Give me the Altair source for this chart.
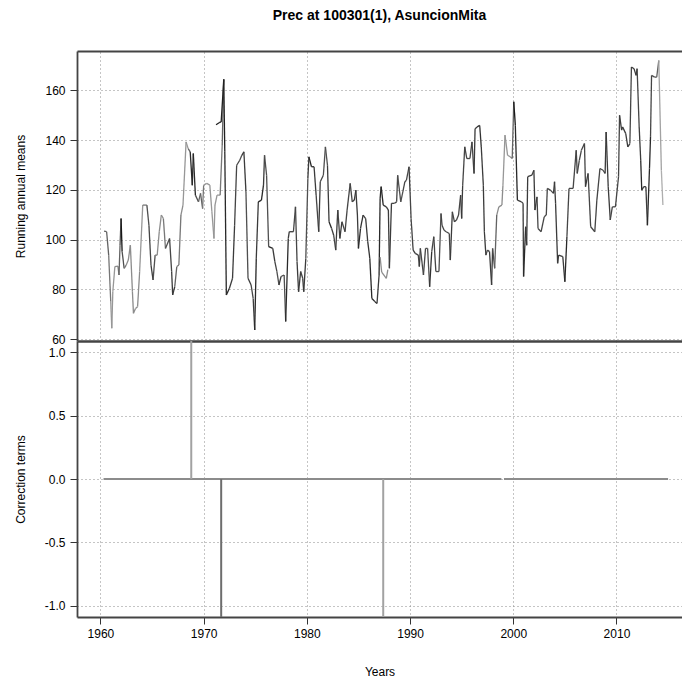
import altair as alt
import pandas as pd

# ---------------- data ----------------
# Running annual means; None marks a break between line pieces.
years = [
    1960.35, 1960.6, 1960.8, 1961.0, 1961.1, 1961.2, 1961.4, 1961.7, 1961.8, 1961.9,
    1962.0, 1962.1, 1962.3, 1962.5, 1962.7, 1962.9, 1963.1, 1963.2, 1963.4, 1963.6,
    1963.8, 1964.1, 1964.5, 1964.7, 1964.9, 1965.1, 1965.3, 1965.5, 1965.7, 1965.9,
    1966.1, 1966.3, 1966.7, 1966.9, 1967.0, 1967.2, 1967.4, 1967.6, 1967.8, 1968.0,
    1968.3, 1968.5, 1968.7, 1968.9, 1969.0, 1969.2, 1969.5, 1969.7, 1969.9, 1970.0,
    1970.3, 1970.6, 1970.8, 1971.0, 1971.1, 1971.3, 1971.6, 1971.8, 1971.95, None,
    1971.2, 1971.5, 1971.7, 1971.95, 1972.05, 1972.2, 1972.5, 1972.8, 1973.0, 1973.2,
    1973.5, 1973.7, 1973.9, 1974.1, 1974.3, 1974.6, 1974.8, 1974.95, 1975.1, 1975.3,
    1975.6, 1975.8, 1975.9, 1976.1, 1976.3, 1976.7, 1976.9, 1977.1, 1977.3, 1977.5,
    1977.8, 1977.95, 1978.2, 1978.3, 1978.7, 1978.9, 1979.05, 1979.2, 1979.4, 1979.6,
    1979.7, 1979.9, 1980.1, 1980.2, 1980.45, 1980.7, 1980.9, 1981.15, 1981.3, 1981.6,
    1981.8, 1982.0, 1982.15, 1982.4, 1982.6, 1982.8, 1983.0, 1983.2, 1983.4, 1983.7,
    1983.9, 1984.2, 1984.4, 1984.6, 1984.75, 1984.9, 1985.0, 1985.2, 1985.45, 1985.7,
    1985.9, 1986.1, 1986.3, 1986.6, 1986.8, 1987.0, 1987.1, 1987.2, 1987.4, 1987.7,
    1987.9, 1988.0, 1988.2, 1988.5, 1988.7, 1988.8, 1989.1, 1989.3, 1989.5, 1989.65,
    1989.9, 1990.0, 1990.1, 1990.3, 1990.5, 1990.8, 1990.9, 1991.0, 1991.3, 1991.5,
    1991.7, 1991.9, 1992.1, 1992.3, 1992.5, 1992.8, 1993.0, 1993.1, 1993.3, 1993.5,
    1993.8, 1993.9, 1994.1, 1994.3, 1994.5, 1994.7, 1994.9, 1995.0, 1995.1, 1995.3,
    1995.5, 1995.8, 1996.0, 1996.2, 1996.3, 1996.5, 1996.75, 1996.9, 1997.1, 1997.2,
    1997.35, 1997.5, 1997.7, 1997.9, 1998.0, 1998.2, 1998.4, 1998.6, 1998.9, 1999.0,
    1999.2, 1999.45, 1999.7, 1999.9, 2000.05, 2000.2, 2000.4, 2000.8, 2000.95, 2001.0,
    2001.2, 2001.3, 2001.4, 2001.8, 2002.0, 2002.1, 2002.3, 2002.4, 2002.7, 2003.0,
    2003.2, 2003.3, 2003.6, 2003.9, 2004.0, 2004.1, 2004.3, 2004.4, 2004.8, 2005.0,
    2005.2, 2005.4, 2005.8, 2006.1, 2006.2, 2006.4, 2006.6, 2006.9, 2007.0, 2007.25,
    2007.5, 2007.9, 2008.1, 2008.4, 2008.7, 2008.9, 2009.0, 2009.2, 2009.4, 2009.6,
    2009.9, 2010.2, 2010.3, 2010.5, 2010.6, 2010.9, 2011.1, 2011.3, 2011.45, 2011.7,
    2011.9, 2012.0, 2012.2, 2012.35, 2012.45, 2012.65, 2012.85, 2013.0, 2013.2, 2013.3,
    2013.4, 2013.7, 2013.9, 2014.1, 2014.35, 2014.5, None,
    1987.1, 1987.25, 1987.7, 1987.85,
]
means = [
    103.4, 103.2, 93.8, 75.1, 64.4, 79.1, 89.2, 89.4, 85.8, 97.8,
    108.5, 95.2, 88.5, 89.8, 91.8, 97.8, 79.1, 70.4, 72.4, 73.1,
    87.2, 113.9, 113.9, 105.8, 89.8, 83.8, 93.8, 93.8, 103.2, 109.9,
    108.5, 96.5, 100.5, 87.2, 77.8, 81.1, 89.2, 89.8, 109.9, 113.9,
    139.3, 136.6, 135.3, 121.9, 134.6, 117.9, 115.2, 118.6, 112.5, 121.9,
    122.6, 121.9, 111.2, 100.5, 113.9, 117.9, 117.9, 138.0, 164.4, None,
    146.2, 147.0, 147.3, 164.4, 135.3, 77.8, 80.5, 84.5, 105.8, 129.9,
    131.9, 133.9, 135.3, 119.2, 84.5, 81.8, 76.4, 63.7, 92.5, 115.2,
    115.9, 121.9, 133.9, 125.9, 97.2, 96.5, 91.2, 87.2, 81.8, 85.2,
    85.8, 67.1, 100.5, 103.2, 103.2, 113.2, 91.2, 79.1, 87.2, 84.5,
    79.1, 92.5, 124.6, 133.3, 129.3, 129.3, 117.9, 103.2, 123.3, 125.9,
    137.3, 129.9, 107.2, 104.5, 101.8, 95.8, 111.9, 100.5, 107.2, 103.2,
    111.9, 122.6, 115.2, 115.9, 119.9, 109.9, 96.5, 104.5, 109.9, 108.5,
    99.2, 92.5, 76.4, 75.1, 74.4, 85.8, 116.6, 121.3, 113.9, 113.2,
    111.9, 88.5, 114.6, 114.6, 115.2, 125.9, 115.2, 119.2, 123.3, 123.9,
    129.3, 119.2, 108.5, 95.8, 94.5, 93.8, 89.2, 96.5, 85.8, 96.5,
    96.5, 81.1, 95.2, 101.2, 87.2, 87.2, 110.5, 105.8, 103.8, 103.2,
    102.5, 91.8, 111.2, 107.2, 107.9, 109.9, 117.9, 108.5, 121.9, 137.3,
    132.6, 132.6, 139.3, 126.6, 144.6, 145.3, 145.9, 137.3, 121.9, 103.2,
    93.8, 95.8, 95.2, 81.8, 96.5, 88.5, 109.9, 113.2, 113.9, 121.9,
    142.0, 133.9, 133.3, 132.6, 155.4, 146.0, 115.9, 115.2, 114.6, 85.2,
    105.2, 97.8, 125.3, 125.9, 127.9, 111.9, 117.2, 104.5, 103.2, 109.2,
    109.9, 120.6, 119.9, 118.6, 123.3, 114.6, 90.5, 93.8, 93.2, 83.1,
    101.2, 120.6, 120.6, 135.9, 126.6, 131.9, 135.9, 138.6, 121.3, 126.6,
    105.2, 103.2, 115.9, 128.6, 127.9, 126.6, 143.3, 121.3, 107.9, 113.2,
    113.2, 125.3, 150.0, 144.0, 145.3, 142.6, 137.3, 138.6, 169.4, 168.7,
    166.0, 168.7, 145.3, 131.9, 119.9, 121.3, 121.3, 105.8, 128.6, 141.3,
    166.0, 165.3, 165.3, 172.0, 127.9, 113.9, None,
    93.0, 87.0, 84.5, 88.0,
]
# grey level of the line (0 = black, 1 = light grey)
shade = [
    0.5, 0.5, 0.6, 0.75, 0.75, 0.75, 0.7, 0.6, 0.5, 0.4,
    0.1, 0.4, 0.6, 0.7, 0.7, 0.7, 0.7, 0.7, 0.7, 0.7,
    0.75, 0.6, 0.4, 0.35, 0.3, 0.4, 0.6, 0.7, 0.7, 0.7,
    0.6, 0.4, 0.35, 0.3, 0.3, 0.5, 0.6, 0.6, 0.7, 0.75,
    0.75, 0.5, 0.2, 0.2, 0.2, 0.4, 0.5, 0.5, 0.6, 0.75,
    0.75, 0.75, 0.75, 0.75, 0.75, 0.75, 0.6, 0.5, 0.3, None,
    0.15, 0.15, 0.15, 0.15, 0.2, 0.2, 0.3, 0.3, 0.35, 0.35,
    0.4, 0.3, 0.3, 0.4, 0.3, 0.35, 0.3, 0.2, 0.3, 0.2,
    0.2, 0.3, 0.4, 0.4, 0.2, 0.3, 0.35, 0.4, 0.3, 0.35,
    0.4, 0.2, 0.3, 0.3, 0.35, 0.35, 0.3, 0.3, 0.35, 0.3,
    0.3, 0.4, 0.3, 0.2, 0.2, 0.3, 0.35, 0.3, 0.35, 0.4,
    0.4, 0.3, 0.2, 0.3, 0.35, 0.3, 0.35, 0.3, 0.35, 0.35,
    0.35, 0.35, 0.3, 0.3, 0.3, 0.3, 0.2, 0.25, 0.3, 0.3,
    0.25, 0.2, 0.2, 0.2, 0.3, 0.2, 0.2, 0.2, 0.3, 0.3,
    0.3, 0.3, 0.35, 0.35, 0.35, 0.4, 0.4, 0.35, 0.35, 0.35,
    0.3, 0.35, 0.35, 0.3, 0.35, 0.35, 0.3, 0.35, 0.35, 0.4,
    0.4, 0.25, 0.35, 0.35, 0.4, 0.4, 0.35, 0.35, 0.35, 0.35,
    0.35, 0.3, 0.35, 0.3, 0.35, 0.35, 0.3, 0.3, 0.35, 0.35,
    0.35, 0.35, 0.35, 0.3, 0.3, 0.25, 0.25, 0.3, 0.3, 0.3,
    0.35, 0.35, 0.3, 0.3, 0.4, 0.5, 0.7, 0.7, 0.7, 0.75,
    0.75, 0.75, 0.7, 0.5, 0.1, 0.2, 0.3, 0.3, 0.3, 0.2,
    0.3, 0.3, 0.3, 0.35, 0.3, 0.3, 0.35, 0.35, 0.35, 0.35,
    0.35, 0.35, 0.35, 0.3, 0.3, 0.3, 0.3, 0.3, 0.3, 0.2,
    0.35, 0.35, 0.35, 0.35, 0.35, 0.35, 0.35, 0.35, 0.3, 0.35,
    0.35, 0.35, 0.35, 0.35, 0.35, 0.3, 0.3, 0.3, 0.35, 0.35,
    0.35, 0.35, 0.3, 0.3, 0.3, 0.3, 0.3, 0.35, 0.3, 0.3,
    0.3, 0.35, 0.3, 0.2, 0.3, 0.3, 0.3, 0.2, 0.2, 0.35,
    0.4, 0.4, 0.5, 0.8, 0.85, 0.85, None,
    0.7, 0.7, 0.7, 0.7,
]

# Correction terms: zero baseline pieces and break spikes
zero_start = [1960.3, 1999.1]
zero_end = [1998.85, 2015.0]
zero_shade = [0.7, 0.7]
break_years = [1968.8, 1971.7, 1987.4]
break_values = [1.2, -1.2, -1.2]
break_shade = [0.8, 0.55, 0.8]

tick_years = [1960, 1970, 1980, 1990, 2000, 2010]
mean_ticks = [60, 80, 100, 120, 140, 160]
corr_ticks = [-1.0, -0.5, 0.0, 0.5, 1.0]

# ---------------- tables built from the arrays ----------------
rows = []
for i in range(len(years) - 1):
    if means[i] is None or means[i + 1] is None:
        continue
    rows.append({"x": years[i], "x2": years[i + 1], "y": means[i], "y2": means[i + 1], "s": shade[i]})
seg_df = pd.DataFrame(rows)
zero_df = pd.DataFrame({"x": zero_start, "x2": zero_end, "y": [0.0] * len(zero_start), "s": zero_shade})
brk_df = pd.DataFrame({"x": break_years, "y": [0.0] * len(break_years), "y2": break_values, "s": break_shade})

FONT = "Liberation Sans"
W = 605
H_TOP = 290
H_BOT = 276
xscale = alt.Scale(domain=[1957.73, 2016.35], nice=False, zero=False)
cscale = alt.Scale(domain=[0, 1], range=["#000000", "#d0d0d0"])

# top panel: x axis on top only supplies the frame line and the grid
top = alt.Chart(seg_df).mark_rule(strokeWidth=1.3).encode(
    x=alt.X("x:Q", scale=xscale,
            axis=alt.Axis(orient="top", values=tick_years, labels=False, ticks=False,
                          domain=True, grid=True, title=None)),
    x2="x2:Q",
    y=alt.Y("y:Q", scale=alt.Scale(domain=[59.3, 175.8], nice=False, zero=False),
            axis=alt.Axis(values=mean_ticks, grid=True, domain=True,
                          title="Running annual means",
                          titleX=-57, titleY=H_TOP / 2, titleBaseline="middle")),
    y2="y2:Q",
    color=alt.Color("s:Q", scale=cscale, legend=None),
).properties(
    width=W, height=H_TOP,
    title=alt.Title("Prec at 100301(1), AsuncionMita", anchor="middle", frame="group",
                    offset=28, font=FONT, fontSize=14, fontWeight="bold", color="#000"),
)

ylab_expr = "datum.value < 0 ? '-' + format(-datum.value, '.1f') : format(datum.value, '.1f')"

zero_layer = alt.Chart(zero_df).mark_rule(strokeWidth=2).encode(
    x=alt.X("x:Q", scale=xscale,
            axis=alt.Axis(values=tick_years, format="d", grid=True, domain=True,
                          title="Years", titleY=54, titleBaseline="middle", labelPadding=4)),
    x2="x2:Q",
    y=alt.Y("y:Q", scale=alt.Scale(domain=[-1.087, 1.087], nice=False, zero=False),
            axis=alt.Axis(values=corr_ticks, labelExpr=ylab_expr, grid=True, domain=True,
                          title="Correction terms", titleX=-57, titleY=H_BOT / 2,
                          titleBaseline="middle")),
    color=alt.Color("s:Q", scale=cscale, legend=None),
)
brk_layer = alt.Chart(brk_df).mark_rule(strokeWidth=2, clip=True).encode(
    x=alt.X("x:Q", scale=xscale,
            axis=alt.Axis(orient="top", labels=False, ticks=False, grid=False,
                          domain=True, domainWidth=2.4, title=None)),
    y=alt.Y("y:Q"),
    y2="y2:Q",
    color=alt.Color("s:Q", scale=cscale, legend=None),
)
bottom = alt.layer(zero_layer, brk_layer).resolve_axis(x="independent").properties(
    width=W, height=H_BOT)

chart = alt.vconcat(top, bottom, spacing=0).properties(
    padding={"left": 14, "top": 9, "right": 0, "bottom": 0},
    background="white",
    bounds="flush",
).configure_axis(
    labelFont=FONT, labelFontSize=12, labelColor="#000",
    titleFont=FONT, titleFontSize=12, titleFontWeight="normal", titleColor="#000",
    tickColor="#333", tickSize=7, tickWidth=1, labelPadding=5,
    domainColor="#444", domainWidth=1.8,
    gridColor="#8a8a8a", gridDash=[1, 3], gridWidth=1,
).configure_view(
    strokeWidth=0,
).configure_concat(spacing=0)

chart.save("out.html", embed_options={"renderer": "svg", "actions": False})
